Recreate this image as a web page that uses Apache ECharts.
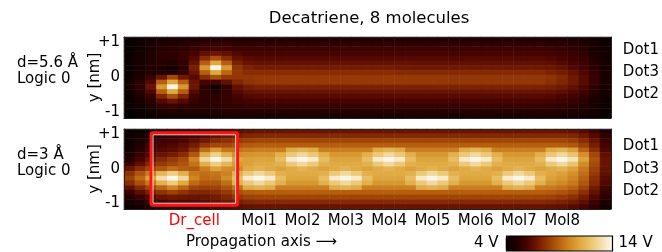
<!DOCTYPE html>
<html><head><meta charset="utf-8">
<script src="https://cdn.jsdelivr.net/npm/echarts@6/dist/echarts.min.js"></script>
<style>html,body{margin:0;padding:0;background:#fff}#c{width:662px;height:252px}</style>
</head><body><div id="c"></div>
<script>
const chartTitle = 'Decatriene, 8 molecules';
const panelLabels = [['d=5.6 Å', 'Logic 0'], ['d=3 Å', 'Logic 0']];
const cellLabels = ['Dr_cell', 'Mol1', 'Mol2', 'Mol3', 'Mol4', 'Mol5', 'Mol6', 'Mol7', 'Mol8'];
const cellPositions = [-0.5, 1, 2, 3, 4, 5, 6, 7, 8];
const xRange = [-2.125, 9.125];
const yRange = [-1.16, 1.16];
const yTicks = [1, 0, -1];
const dotLabels = ['Dot1', 'Dot3', 'Dot2'];
const dotPositionsTop = [0.79, 0.16, -0.47];
const dotPositionsBottom = [0.67, 0.0, -0.64];
const driverBox = [-1.5, 0.5, -1.05, 1.05];
const colorRange = [4, 14];
const colorUnit = ' V';
const axisName = 'y [nm]';
const propagationText = 'Propagation axis \u27F6';

// potential field, rows from y=+1 (top) to y=-1 (bottom), d = 5.6 Å
const field56 = [
[4.2,4.4,4.6,4.8,4.9,5.0,5.0,5.1,5.1,5.1,5.1,5.1,5.1,5.1,5.1,5.1,5.1,5.1,5.1,5.1,5.1,5.1,5.1,5.1,5.1,5.1,5.1,5.1,5.1,5.1,5.1,5.1,5.1,5.1,5.1,5.1,5.1,5.1,5.1,5.0,5.0,4.9,4.8,4.6,4.4],
[4.3,4.5,4.8,5.0,5.1,5.2,5.3,5.4,5.5,5.5,5.4,5.4,5.4,5.4,5.4,5.4,5.4,5.4,5.4,5.4,5.4,5.4,5.4,5.4,5.4,5.4,5.4,5.4,5.4,5.4,5.4,5.4,5.4,5.4,5.4,5.4,5.4,5.4,5.4,5.3,5.3,5.2,5.0,4.8,4.5],
[4.3,4.6,4.9,5.2,5.3,5.4,5.6,5.9,6.0,5.9,5.7,5.7,5.7,5.7,5.7,5.7,5.7,5.7,5.7,5.7,5.7,5.7,5.7,5.7,5.7,5.7,5.7,5.7,5.7,5.7,5.7,5.7,5.7,5.7,5.7,5.7,5.7,5.7,5.7,5.6,5.5,5.4,5.2,4.9,4.6],
[4.4,4.7,5.0,5.3,5.4,5.6,6.0,6.6,6.9,6.6,6.2,6.0,6.0,6.0,6.0,6.0,6.0,6.0,6.0,6.0,6.0,6.0,6.0,6.0,6.0,6.0,6.0,6.0,6.0,6.0,6.0,6.0,6.0,6.0,6.0,6.0,6.0,6.0,6.0,5.9,5.8,5.6,5.4,5.0,4.7],
[4.4,4.8,5.1,5.3,5.3,5.6,6.3,7.6,8.6,7.6,6.7,6.4,6.3,6.3,6.3,6.3,6.3,6.3,6.3,6.3,6.3,6.3,6.3,6.3,6.3,6.3,6.3,6.3,6.3,6.3,6.3,6.3,6.3,6.3,6.3,6.3,6.3,6.3,6.3,6.2,6.0,5.8,5.5,5.1,4.7],
[4.4,4.8,5.1,5.2,5.1,5.5,6.7,9.0,11.0,9.0,7.3,6.8,6.7,6.7,6.7,6.7,6.7,6.7,6.7,6.7,6.7,6.7,6.7,6.7,6.7,6.7,6.7,6.6,6.6,6.6,6.6,6.6,6.6,6.6,6.6,6.6,6.6,6.6,6.6,6.5,6.3,6.0,5.7,5.2,4.8],
[4.4,4.8,5.0,5.0,4.7,5.4,7.2,10.5,14.0,10.5,7.8,7.3,7.1,7.1,7.1,7.1,7.1,7.1,7.1,7.1,7.1,7.1,7.1,7.1,7.1,7.0,7.0,7.0,7.0,7.0,7.0,7.0,7.0,7.0,7.0,7.0,7.0,7.0,7.0,6.9,6.7,6.3,5.9,5.3,4.8],
[4.5,4.9,5.1,5.1,5.0,5.5,6.8,9.0,11.0,9.2,7.9,7.6,7.6,7.6,7.6,7.6,7.6,7.6,7.6,7.6,7.6,7.6,7.6,7.6,7.6,7.5,7.5,7.5,7.5,7.5,7.5,7.5,7.5,7.5,7.5,7.5,7.5,7.5,7.5,7.3,7.1,6.7,6.2,5.5,4.9],
[4.6,5.0,5.6,6.8,8.4,7.0,6.4,7.6,8.6,8.0,7.9,7.9,8.0,8.0,8.0,8.0,8.0,8.0,8.0,8.0,8.0,8.0,8.0,8.0,8.0,8.0,8.0,8.0,8.0,8.0,7.9,7.9,7.9,7.9,7.9,7.9,7.9,7.9,7.9,7.8,7.5,7.0,6.4,5.6,4.9],
[4.7,5.3,6.3,9.0,11.0,9.0,6.8,6.0,6.0,6.6,7.4,7.8,7.9,8.0,8.0,8.0,8.0,8.0,8.0,8.0,8.0,8.0,8.0,8.0,8.0,8.0,8.0,8.0,8.0,7.9,7.9,7.9,7.9,7.9,7.9,7.9,7.9,7.9,7.9,7.7,7.4,7.0,6.4,5.6,4.9],
[4.7,5.4,6.8,10.5,14.0,10.5,6.9,5.3,4.7,5.5,6.6,7.1,7.3,7.3,7.3,7.3,7.3,7.3,7.3,7.3,7.3,7.3,7.3,7.3,7.3,7.3,7.3,7.3,7.3,7.3,7.3,7.3,7.3,7.3,7.3,7.3,7.3,7.3,7.3,7.2,7.0,6.6,6.1,5.4,4.8],
[4.6,5.2,6.2,9.0,11.0,9.0,6.3,5.3,5.0,5.5,6.3,6.7,6.8,6.8,6.8,6.8,6.8,6.8,6.8,6.8,6.8,6.8,6.8,6.8,6.8,6.8,6.8,6.8,6.8,6.8,6.8,6.8,6.8,6.8,6.8,6.8,6.8,6.8,6.8,6.7,6.5,6.2,5.8,5.2,4.7],
[4.5,5.0,5.7,7.4,8.6,7.4,5.9,5.4,5.3,5.6,6.0,6.3,6.4,6.4,6.4,6.4,6.4,6.4,6.4,6.4,6.4,6.4,6.4,6.4,6.4,6.4,6.4,6.4,6.4,6.4,6.4,6.4,6.4,6.4,6.4,6.4,6.4,6.4,6.4,6.3,6.1,5.9,5.5,5.0,4.6],
[4.4,4.8,5.3,6.3,6.8,6.3,5.6,5.4,5.4,5.5,5.8,5.9,6.0,6.0,6.0,6.0,6.0,6.0,6.0,6.0,6.0,6.0,6.0,6.0,6.0,6.0,6.0,6.0,6.0,6.0,6.0,6.0,6.0,6.0,6.0,6.0,6.0,6.0,6.0,5.9,5.8,5.6,5.3,4.9,4.5],
[4.3,4.6,5.0,5.5,5.7,5.5,5.3,5.3,5.3,5.4,5.5,5.6,5.6,5.6,5.6,5.6,5.6,5.6,5.6,5.6,5.6,5.6,5.6,5.6,5.6,5.6,5.6,5.6,5.6,5.6,5.6,5.6,5.6,5.6,5.6,5.6,5.6,5.6,5.6,5.5,5.4,5.3,5.1,4.8,4.5],
[4.2,4.4,4.7,5.0,5.1,5.1,5.1,5.1,5.1,5.2,5.2,5.2,5.2,5.2,5.2,5.2,5.2,5.2,5.2,5.2,5.2,5.2,5.2,5.2,5.2,5.2,5.2,5.2,5.2,5.2,5.2,5.2,5.2,5.2,5.2,5.2,5.2,5.2,5.2,5.2,5.1,5.0,4.9,4.7,4.4],
[4.1,4.3,4.5,4.7,4.8,4.8,4.8,4.8,4.9,4.9,4.9,4.9,4.9,4.9,4.9,4.9,4.9,4.9,4.9,4.9,4.9,4.9,4.9,4.9,4.9,4.9,4.9,4.9,4.9,4.9,4.9,4.9,4.9,4.9,4.9,4.9,4.9,4.9,4.9,4.9,4.8,4.8,4.7,4.5,4.3]
];

// potential field, d = 3 Å
const field30 = [
[4.3,4.5,4.8,5.1,5.3,5.4,5.6,5.8,6.0,6.2,6.5,6.7,6.8,6.8,6.8,6.8,6.8,6.8,6.8,6.8,6.8,6.8,6.8,6.8,6.8,6.8,6.8,6.8,6.8,6.8,6.8,6.8,6.8,6.8,6.8,6.8,6.8,6.8,6.8,6.8,6.8,6.7,6.4,5.8,5.0],
[4.4,4.7,5.0,5.4,5.6,5.8,6.0,6.3,6.6,6.9,7.2,7.4,7.5,7.5,7.5,7.5,7.5,7.5,7.5,7.5,7.5,7.5,7.5,7.5,7.5,7.5,7.5,7.5,7.5,7.5,7.5,7.5,7.5,7.5,7.5,7.5,7.5,7.5,7.5,7.5,7.5,7.4,7.0,6.3,5.4],
[4.5,4.9,5.3,5.7,5.9,6.1,6.5,7.0,7.5,7.7,8.0,8.2,8.3,8.3,8.3,8.3,8.3,8.3,8.3,8.3,8.3,8.3,8.3,8.3,8.3,8.3,8.3,8.3,8.3,8.3,8.3,8.3,8.3,8.3,8.3,8.3,8.3,8.3,8.3,8.3,8.3,8.1,7.6,6.8,5.7],
[4.6,5.1,5.6,6.0,6.2,6.5,7.1,7.9,8.4,8.4,8.7,8.9,9.0,9.0,9.0,9.0,9.0,9.0,9.0,9.0,9.0,9.0,9.0,9.0,9.0,9.0,9.0,9.0,9.0,9.0,9.0,9.0,9.0,9.0,9.0,9.0,9.0,9.0,9.0,9.0,9.0,8.8,8.2,7.2,6.0],
[4.7,5.3,5.9,6.3,6.5,6.9,7.8,9.4,10.6,9.6,9.5,9.7,9.8,9.8,9.8,11.1,11.4,11.1,9.8,9.8,9.8,9.8,9.8,11.1,11.4,11.1,9.8,9.8,9.8,9.8,9.8,11.1,11.4,11.1,9.8,9.8,9.8,9.8,9.8,11.1,11.4,10.8,9.1,7.7,6.2],
[4.9,5.6,6.3,6.8,7.1,7.6,8.8,11.2,12.5,11.4,10.3,10.4,10.5,10.5,11.3,12.2,12.8,12.2,11.3,10.5,10.5,10.5,11.3,12.2,12.8,12.2,11.3,10.5,10.5,10.5,11.3,12.2,12.8,12.2,11.3,10.5,10.5,10.5,11.3,12.2,12.8,12.0,10.3,8.4,6.6],
[5.2,6.0,6.8,7.5,8.0,8.5,10.0,12.8,14.0,13.0,11.0,10.8,10.9,10.9,11.8,13.5,14.0,13.5,11.8,10.9,10.9,10.9,11.8,13.5,14.0,13.5,11.8,10.9,10.9,10.9,11.8,13.5,14.0,13.5,11.8,10.9,10.9,10.9,11.8,13.5,14.0,13.2,10.9,8.7,6.8],
[5.8,6.6,7.4,8.0,8.4,8.7,9.5,11.2,12.4,11.5,10.6,10.8,11.1,11.1,11.3,12.2,12.8,12.2,11.3,11.1,11.1,11.1,11.3,12.2,12.8,12.2,11.3,11.1,11.1,11.1,11.3,12.2,12.8,12.2,11.3,11.1,11.1,11.1,11.3,12.2,12.8,12.0,10.2,8.5,6.8],
[6.8,7.6,8.3,8.8,9.4,9.0,8.9,9.8,10.8,10.2,10.2,11.1,11.4,11.1,10.8,11.1,11.4,11.1,10.8,11.1,11.4,11.1,10.8,11.1,11.4,11.1,10.8,11.1,11.4,11.1,10.8,11.1,11.4,11.1,10.8,11.1,11.4,11.1,10.8,11.1,11.4,10.8,9.7,8.2,6.7],
[7.8,8.7,9.7,11.5,12.4,11.3,9.7,9.4,9.6,9.9,11.3,12.2,12.8,12.2,11.3,11.1,11.1,11.1,11.3,12.2,12.8,12.2,11.3,11.1,11.1,11.1,11.3,12.2,12.8,12.2,11.3,11.1,11.1,11.1,11.3,12.2,12.8,12.2,11.3,11.0,10.8,10.3,9.4,8.0,6.6],
[8.2,9.3,10.8,13.0,14.0,12.8,10.0,9.3,9.4,10.2,11.8,13.5,14.0,13.5,11.8,10.9,10.9,10.9,11.8,13.5,14.0,13.5,11.8,10.9,10.9,10.9,11.8,13.5,14.0,13.5,11.8,10.9,10.9,10.9,11.8,13.5,14.0,13.5,11.8,10.8,10.5,10.0,9.1,7.7,6.4],
[7.6,8.6,9.6,11.3,12.3,11.1,9.3,8.8,8.8,9.4,11.3,12.2,12.8,12.2,11.3,10.5,10.5,10.5,11.3,12.2,12.8,12.2,11.3,10.5,10.5,10.5,11.3,12.2,12.8,12.2,11.3,10.5,10.5,10.5,11.3,12.2,12.8,12.2,11.3,10.4,10.1,9.7,8.8,7.5,6.2],
[6.6,7.5,8.3,9.2,10.0,9.2,8.3,8.1,8.2,8.7,9.5,11.1,11.4,11.1,9.8,9.8,9.8,9.8,9.8,11.1,11.4,11.1,9.8,9.8,9.8,9.8,9.8,11.1,11.4,11.1,9.8,9.8,9.8,9.8,9.8,11.1,11.4,11.1,9.8,9.7,9.5,9.1,8.3,7.1,5.9],
[5.7,6.5,7.2,7.8,8.2,7.8,7.4,7.4,7.6,8.0,8.6,8.9,9.0,9.0,9.0,9.0,9.0,9.0,9.0,9.0,9.0,9.0,9.0,9.0,9.0,9.0,9.0,9.0,9.0,9.0,9.0,9.0,9.0,9.0,9.0,9.0,9.0,9.0,9.0,8.9,8.7,8.4,7.7,6.7,5.6],
[5.1,5.7,6.3,6.8,7.0,6.9,6.8,6.9,7.1,7.4,7.9,8.2,8.3,8.3,8.3,8.3,8.3,8.3,8.3,8.3,8.3,8.3,8.3,8.3,8.3,8.3,8.3,8.3,8.3,8.3,8.3,8.3,8.3,8.3,8.3,8.3,8.3,8.3,8.3,8.2,8.0,7.7,7.1,6.2,5.3],
[4.7,5.1,5.6,6.0,6.2,6.2,6.2,6.4,6.6,6.9,7.2,7.4,7.5,7.5,7.5,7.5,7.5,7.5,7.5,7.5,7.5,7.5,7.5,7.5,7.5,7.5,7.5,7.5,7.5,7.5,7.5,7.5,7.5,7.5,7.5,7.5,7.5,7.5,7.5,7.4,7.3,7.0,6.5,5.8,5.0],
[4.4,4.7,5.0,5.4,5.6,5.7,5.8,5.9,6.1,6.3,6.5,6.7,6.8,6.8,6.8,6.8,6.8,6.8,6.8,6.8,6.8,6.8,6.8,6.8,6.8,6.8,6.8,6.8,6.8,6.8,6.8,6.8,6.8,6.8,6.8,6.8,6.8,6.8,6.8,6.7,6.6,6.4,6.0,5.4,4.7]
];

const FONT = 'DejaVu Sans';
const FS = 15;
const chart = echarts.init(document.getElementById('c'), null, {renderer: 'canvas'});

function toCells(field) {
  const out = [];
  field.forEach((row, r) => row.forEach((v, c) => out.push([c, r, v])));
  return out;
}
function nearest(list, v) {
  let k = 0;
  list.forEach((p, i) => { if (Math.abs(p - v) < Math.abs(list[k] - v)) k = i; });
  return k;
}
const nCols = field56[0].length, nRows = field56.length;
const colCats = Array.from({length: nCols}, (_, i) => String(i));
const rowCats = Array.from({length: nRows}, (_, i) => String(i));

const grids = [
  {left: 124, top: 37, width: 490, height: 81},
  {left: 124, top: 129, width: 490, height: 80}
];
const dotPositions = [dotPositionsTop, dotPositionsBottom];

const lineStyle = {color: '#222', width: 1};
const xAxes = [], yAxes = [];
grids.forEach((g, gi) => {
  xAxes.push({type: 'category', gridIndex: gi, data: colCats, show: false});
  yAxes.push({type: 'category', gridIndex: gi, data: rowCats, inverse: true, show: false});
});
grids.forEach((g, gi) => {
  xAxes.push({
    type: 'value', gridIndex: gi, position: 'bottom', min: xRange[0], max: xRange[1], z: 10,
    axisLine: {show: true, onZero: false, lineStyle},
    axisTick: {show: false}, splitLine: {show: false},
    axisLabel: gi === 1 ? {
      show: true, customValues: cellPositions, margin: 5, fontSize: FS, fontFamily: FONT, color: '#000',
      formatter: v => {
        const k = nearest(cellPositions, v);
        return k === 0 ? '{r|' + cellLabels[k] + '}' : cellLabels[k];
      },
      rich: {r: {color: '#ff0000', fontSize: FS, fontFamily: FONT}}
    } : {show: false}
  });
  xAxes.push({
    type: 'value', gridIndex: gi, position: 'top', min: xRange[0], max: xRange[1], z: 10,
    axisLine: {show: true, onZero: false, lineStyle},
    axisTick: {show: false}, splitLine: {show: false}, axisLabel: {show: false}
  });
  yAxes.push({
    type: 'value', gridIndex: gi, position: 'left', min: yRange[0], max: yRange[1], z: 10,
    axisLine: {show: true, onZero: false, lineStyle},
    axisTick: {show: false}, splitLine: {show: false},
    axisLabel: {show: true, customValues: yTicks, margin: 4, fontSize: FS, fontFamily: FONT, color: '#000',
      formatter: v => (v > 0 ? '+' + v : String(v))},
    name: axisName, nameLocation: 'middle', nameRotate: 90, nameGap: 21, nameMoveOverlap: false,
    nameTextStyle: {fontSize: FS, fontFamily: FONT, color: '#000'}
  });
  yAxes.push({
    type: 'value', gridIndex: gi, position: 'right', min: yRange[0], max: yRange[1], z: 10,
    axisLine: {show: true, onZero: false, lineStyle},
    axisTick: {show: false}, splitLine: {show: false},
    axisLabel: {show: true, customValues: dotPositions[gi], margin: 12, fontSize: FS, fontFamily: FONT, color: '#000',
      formatter: v => dotLabels[nearest(dotPositions[gi], v)]}
  });
});
// x: 0,1 category; 2 g0 bottom, 3 g0 top, 4 g1 bottom, 5 g1 top
// y: 0,1 category; 2 g0 left, 3 g0 right, 4 g1 left, 5 g1 right

const option = {
  animation: false,
  textStyle: {fontFamily: FONT},
  grid: grids,
  xAxis: xAxes,
  yAxis: yAxes,
  visualMap: {
    type: 'continuous', min: colorRange[0], max: colorRange[1], calculable: false, hoverLink: false,
    orient: 'horizontal', left: 474, top: 236, padding: 0,
    itemWidth: 15, itemHeight: 106, textGap: 7,
    text: [colorRange[1] + colorUnit, colorRange[0] + colorUnit],
    textStyle: {fontSize: FS, fontFamily: FONT, color: '#000'},
    seriesIndex: [0, 1],
    inRange: {color: ['#000000', '#1e0000', '#470300', '#701800', '#963a05', '#b65e10', '#cf8622', '#dfa840', '#eac46c', '#f3ddaa', '#fcf6ea']}
  },
  series: [
    {type: 'heatmap', xAxisIndex: 0, yAxisIndex: 0, data: toCells(field56), progressive: 0, emphasis: {disabled: true}, silent: true},
    {type: 'heatmap', xAxisIndex: 1, yAxisIndex: 1, data: toCells(field30), progressive: 0, emphasis: {disabled: true}, silent: true},
    {type: 'custom', xAxisIndex: 4, yAxisIndex: 4, silent: true, z: 20, clip: false,
      data: [driverBox],
      renderItem: (params, api) => {
        const p0 = api.coord([api.value(0), api.value(3)]);
        const p1 = api.coord([api.value(1), api.value(2)]);
        const w = p1[0] - p0[0], h = p1[1] - p0[1];
        return {type: 'group', children: [
          {type: 'rect', shape: {x: p0[0], y: p0[1], width: w, height: h, r: 2},
            style: {fill: 'none', stroke: '#ff1414', lineWidth: 3}},
          {type: 'rect', shape: {x: p0[0] + 2, y: p0[1] + 2, width: w - 4, height: h - 4},
            style: {fill: 'none', stroke: '#ffc8c8', lineWidth: 1}}
        ]};
      }}
  ],
  graphic: [
    {type: 'text', x: 369, y: 19, style: {text: chartTitle, fontSize: 16.5, fontFamily: FONT, fill: '#000', align: 'center', verticalAlign: 'middle'}},
    {type: 'text', x: 17, y: 63, style: {text: panelLabels[0][0], fontSize: FS, fontFamily: FONT, fill: '#000', verticalAlign: 'middle'}},
    {type: 'text', x: 17, y: 79, style: {text: panelLabels[0][1], fontSize: FS, fontFamily: FONT, fill: '#000', verticalAlign: 'middle'}},
    {type: 'text', x: 17, y: 155, style: {text: panelLabels[1][0], fontSize: FS, fontFamily: FONT, fill: '#000', verticalAlign: 'middle'}},
    {type: 'text', x: 17, y: 171, style: {text: panelLabels[1][1], fontSize: FS, fontFamily: FONT, fill: '#000', verticalAlign: 'middle'}},
    {type: 'text', x: 186, y: 242, style: {text: propagationText, fontSize: FS, fontFamily: FONT, fill: '#000', verticalAlign: 'middle'}},
    {type: 'rect', shape: {x: 506.5, y: 236, width: 106, height: 15}, style: {fill: 'none', stroke: '#000', lineWidth: 1.2}, z: 100}
  ]
};
chart.setOption(option);
</script>
</body></html>
